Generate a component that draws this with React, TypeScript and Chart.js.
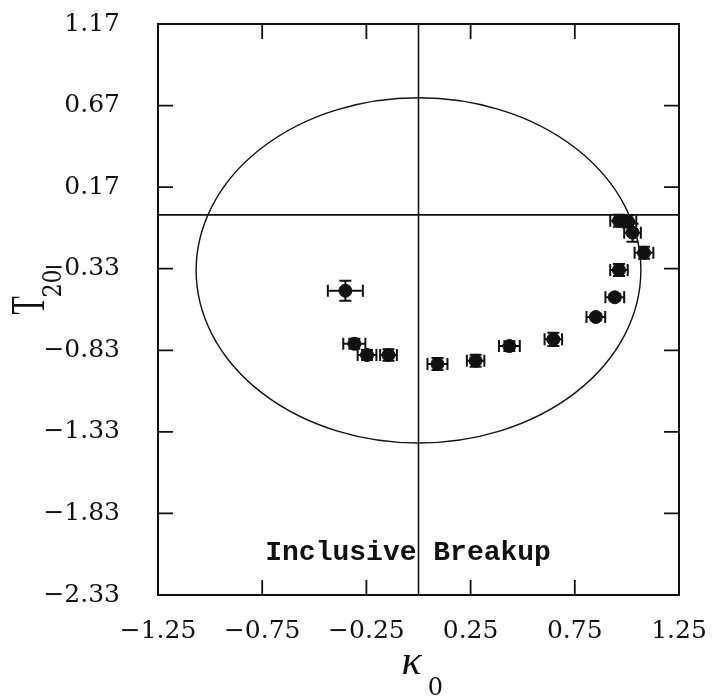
import React, { useEffect, useRef } from "react";
import { Chart, registerables } from "chart.js";

Chart.register(...registerables);

// ---- data ----
const kappa0 = [-0.351, -0.308, -0.247, -0.144, 0.091, 0.274, 0.436, 0.647, 0.851, 0.942, 0.962, 1.082, 1.027, 0.962, 1.005];
const t20 = [-0.465, -0.79, -0.859, -0.859, -0.914, -0.894, -0.804, -0.763, -0.626, -0.505, -0.338, -0.232, -0.109, -0.036, -0.04];
const kappaErr = [0.084, 0.053, 0.045, 0.04, 0.048, 0.042, 0.05, 0.042, 0.045, 0.045, 0.042, 0.045, 0.04, 0.042, 0.04];
const t20Err = [0.061, 0.03, 0.03, 0.035, 0.037, 0.037, 0.03, 0.04, 0.02, 0.02, 0.037, 0.037, 0.055, 0.037, 0.037];

const xTickValues = [-1.25, -0.75, -0.25, 0.25, 0.75, 1.25];
const xTickLabels = ["−1.25", "−0.75", "−0.25", "0.25", "0.75", "1.25"];
const yTickValues = [1.17, 0.67, 0.17, -0.33, -0.83, -1.33, -1.83, -2.33];
const yTickLabels = ["1.17", "0.67", "0.17", "−0.33", "−0.83", "−1.33", "−1.83", "−2.33"];

const ellipseCenter = [0, -0.34];
const ellipseRadii = [1.067, 1.058];

const annotationText = "Inclusive Breakup";
const annotationPos = [-0.05, -2.07];

const xTitle = "κ";
const xTitleSub = "0";
const yTitle = "T";
const yTitleSub = "20";

const tickFont = { family: "'DejaVu Serif', serif", size: 25 };

export default function App() {
  const ref = useRef<HTMLCanvasElement | null>(null);

  useEffect(() => {
    const canvas = ref.current;
    if (!canvas) return;

    const decorPlugin = {
      id: "decor",
      beforeDatasetsDraw(chart: any) {
        const { ctx, chartArea } = chart;
        const xs = chart.scales.x;
        const ys = chart.scales.y;
        ctx.save();
        ctx.strokeStyle = "#111";
        // zero lines
        ctx.lineWidth = 1.6;
        const x0 = xs.getPixelForValue(0);
        const y0 = ys.getPixelForValue(0);
        ctx.beginPath();
        ctx.moveTo(x0, chartArea.top);
        ctx.lineTo(x0, chartArea.bottom);
        ctx.moveTo(chartArea.left, y0);
        ctx.lineTo(chartArea.right, y0);
        ctx.stroke();
        // ellipse
        const cx = xs.getPixelForValue(ellipseCenter[0]);
        const cy = ys.getPixelForValue(ellipseCenter[1]);
        const rx = Math.abs(xs.getPixelForValue(ellipseCenter[0] + ellipseRadii[0]) - cx);
        const ry = Math.abs(ys.getPixelForValue(ellipseCenter[1] + ellipseRadii[1]) - cy);
        ctx.lineWidth = 1.4;
        ctx.beginPath();
        ctx.ellipse(cx, cy, rx, ry, 0, 0, Math.PI * 2);
        ctx.stroke();
        // error bars
        ctx.lineWidth = 2;
        const cap = 6;
        for (let i = 0; i < kappa0.length; i++) {
          const px = xs.getPixelForValue(kappa0[i]);
          const py = ys.getPixelForValue(t20[i]);
          const xl = xs.getPixelForValue(kappa0[i] - kappaErr[i]);
          const xr = xs.getPixelForValue(kappa0[i] + kappaErr[i]);
          const yt = ys.getPixelForValue(t20[i] + t20Err[i]);
          const yb = ys.getPixelForValue(t20[i] - t20Err[i]);
          ctx.beginPath();
          ctx.moveTo(xl, py);
          ctx.lineTo(xr, py);
          ctx.moveTo(xl, py - cap);
          ctx.lineTo(xl, py + cap);
          ctx.moveTo(xr, py - cap);
          ctx.lineTo(xr, py + cap);
          ctx.moveTo(px, yt);
          ctx.lineTo(px, yb);
          ctx.moveTo(px - cap, yt);
          ctx.lineTo(px + cap, yt);
          ctx.moveTo(px - cap, yb);
          ctx.lineTo(px + cap, yb);
          ctx.stroke();
        }
        ctx.restore();
      },
      afterDraw(chart: any) {
        const { ctx, chartArea } = chart;
        const xs = chart.scales.x;
        const ys = chart.scales.y;
        const { left, right, top, bottom } = chartArea;
        ctx.save();
        ctx.strokeStyle = "#111";
        ctx.lineWidth = 2;
        ctx.strokeRect(left, top, right - left, bottom - top);
        // inner ticks
        const tl = 15;
        ctx.lineWidth = 1.8;
        ctx.beginPath();
        xTickValues.slice(1, -1).forEach((v) => {
          const p = xs.getPixelForValue(v);
          ctx.moveTo(p, top);
          ctx.lineTo(p, top + tl);
          ctx.moveTo(p, bottom);
          ctx.lineTo(p, bottom - tl);
        });
        yTickValues.slice(1, -1).forEach((v) => {
          const p = ys.getPixelForValue(v);
          ctx.moveTo(left, p);
          ctx.lineTo(left + tl, p);
          ctx.moveTo(right, p);
          ctx.lineTo(right - tl, p);
        });
        ctx.stroke();

        // annotation
        ctx.fillStyle = "#111";
        ctx.font = "bold 28px 'Liberation Mono', monospace";
        ctx.textAlign = "center";
        ctx.textBaseline = "middle";
        ctx.fillText(annotationText, xs.getPixelForValue(annotationPos[0]), ys.getPixelForValue(annotationPos[1]));

        // x title
        const midX = (left + right) / 2;
        ctx.font = "italic 42px 'Liberation Serif', serif";
        ctx.textAlign = "center";
        ctx.textBaseline = "middle";
        ctx.fillText(xTitle, midX - 7, bottom + 68);
        ctx.font = "24px 'DejaVu Serif', serif";
        ctx.fillText(xTitleSub, midX + 17, bottom + 94);

        // y title (rotated)
        const midY = (top + bottom) / 2;
        ctx.save();
        ctx.translate(left - 129, midY - 4);
        ctx.rotate(-Math.PI / 2);
        ctx.scale(0.62, 1);
        ctx.font = "48px 'Liberation Serif', serif";
        ctx.textAlign = "center";
        ctx.textBaseline = "middle";
        ctx.fillText(yTitle, 0, 2);
        ctx.restore();
        ctx.save();
        ctx.translate(left - 104, midY - 26);
        ctx.rotate(-Math.PI / 2);
        ctx.scale(0.85, 1);
        ctx.font = "26px 'DejaVu Serif', serif";
        ctx.textAlign = "center";
        ctx.textBaseline = "middle";
        ctx.fillText(yTitleSub, 0, 0);
        ctx.restore();
        ctx.restore();
      },
    };

    const chart = new Chart(canvas, {
      type: "scatter",
      data: {
        datasets: [
          {
            data: kappa0.map((x, i) => ({ x, y: t20[i] })),
            backgroundColor: "#111",
            borderColor: "#111",
            pointRadius: 6.5,
            pointHoverRadius: 6.5,
            pointStyle: "circle",
          },
        ],
      },
      plugins: [decorPlugin],
      options: {
        animation: false,
        responsive: false,
        devicePixelRatio: 1,
        events: [],
        layout: { padding: { left: 0, right: 34, top: 24, bottom: 0 } },
        plugins: { legend: { display: false }, tooltip: { enabled: false }, title: { display: false } },
        scales: {
          x: {
            type: "linear",
            min: -1.25,
            max: 1.25,
            grid: { display: false, drawTicks: false },
            border: { display: false },
            afterBuildTicks: (axis: any) => {
              axis.ticks = xTickValues.map((value) => ({ value }));
            },
            afterFit: (axis: any) => {
              axis.height = 103;
              axis.paddingLeft = 0;
              axis.paddingRight = 0;
            },
            ticks: {
              autoSkip: false,
              maxRotation: 0,
              padding: 21,
              color: "#111",
              font: tickFont,
              callback: (_v: any, i: number) => xTickLabels[i],
            },
          },
          y: {
            type: "linear",
            min: -2.33,
            max: 1.17,
            grid: { display: false, drawTicks: false },
            border: { display: false },
            afterBuildTicks: (axis: any) => {
              axis.ticks = yTickValues.map((value) => ({ value }));
            },
            afterFit: (axis: any) => {
              axis.width = 158;
              axis.paddingTop = 0;
              axis.paddingBottom = 0;
            },
            ticks: {
              autoSkip: false,
              padding: 38,
              color: "#111",
              font: tickFont,
              callback: (_v: any, i: number) => yTickLabels[i],
            },
          },
        },
      },
    });
    return () => chart.destroy();
  }, []);

  return (
    <div style={{ position: "fixed", left: 0, top: 0, width: 713, height: 698, background: "#fff" }}>
      <canvas ref={ref} width={713} height={698} style={{ width: 713, height: 698, display: "block" }} />
    </div>
  );
}
